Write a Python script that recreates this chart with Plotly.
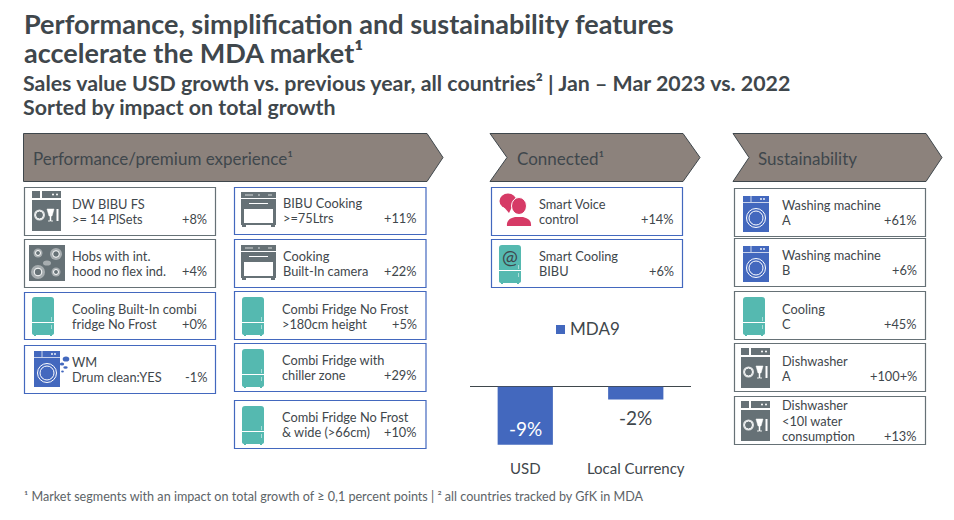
#!/usr/bin/env python3
import plotly.graph_objects as go

DARK = "#3f474c"
GRAY = "#667176"
BLUE = "#4368be"
TEAL = "#55b9b0"
RED = "#d63a66"
TAUPE = "#8c827c"
FONT = "Lato"

title_lines = ["Performance, simplification and sustainability features", "accelerate the MDA market¹"]
subtitle_lines = ["Sales value USD growth vs. previous year, all countries² | Jan – Mar 2023 vs. 2022",
                  "Sorted by impact on total growth"]
footnote = "¹ Market segments with an impact on total growth of ≥ 0,1 percent points | ² all countries tracked by GfK in MDA"

header_names = ["Performance/premium experience¹", "Connected¹", "Sustainability"]

perf_left_labels = [["DW BIBU FS", ">= 14 PlSets"], ["Hobs with int.", "hood no flex ind."],
                    ["Cooling Built-In combi", "fridge No Frost"], ["WM", "Drum clean:YES"]]
perf_left_values = ["+8%", "+4%", "+0%", "-1%"]
perf_left_icons = ["dish", "hob", "fridge", "wm"]
perf_left_border = [GRAY, GRAY, BLUE, BLUE]

perf_right_labels = [["BIBU Cooking", ">=75Ltrs"], ["Cooking", "Built-In camera"],
                     ["Combi Fridge No Frost", ">180cm height"], ["Combi Fridge with", "chiller zone"],
                     ["Combi Fridge No Frost", "& wide (>66cm)"]]
perf_right_values = ["+11%", "+22%", "+5%", "+29%", "+10%"]
perf_right_icons = ["oven", "oven", "fridge", "fridge", "fridge"]
perf_right_border = [BLUE, BLUE, BLUE, BLUE, BLUE]

connected_labels = [["Smart Voice", "control"], ["Smart Cooling", "BIBU"]]
connected_values = ["+14%", "+6%"]
connected_icons = ["voice", "smartfridge"]
connected_border = [BLUE, BLUE]

sustain_labels = [["Washing machine", "A"], ["Washing machine", "B"], ["Cooling", "C"],
                  ["Dishwasher", "A"], ["Dishwasher", "<10l water", "consumption"]]
sustain_values = ["+61%", "+6%", "+45%", "+100+%", "+13%"]
sustain_icons = ["washer", "washer", "fridge", "dish", "dish"]
sustain_border = [GRAY, GRAY, GRAY, GRAY, GRAY]

bar_name = "MDA9"
bar_categories = ["USD", "Local Currency"]
bar_values = [-9, -2]
bar_labels = ["-9%", "-2%"]

shapes = []
annotations = []


def rect(x0, y0, x1, y1, fill=None, line=None, width=1):
    shapes.append(dict(type="rect", xref="x", yref="y", x0=x0, y0=y0, x1=x1, y1=y1,
                       fillcolor=fill or "rgba(0,0,0,0)",
                       line=dict(color=line or "rgba(0,0,0,0)", width=width if line else 0)))


def circle(cx, cy, rx, ry=None, fill=None, line=None, width=1):
    ry = ry or rx
    shapes.append(dict(type="circle", xref="x", yref="y", x0=cx - rx, y0=cy - ry, x1=cx + rx, y1=cy + ry,
                       fillcolor=fill or "rgba(0,0,0,0)",
                       line=dict(color=line or "rgba(0,0,0,0)", width=width if line else 0)))


def path(d, fill=None, line=None, width=1):
    shapes.append(dict(type="path", xref="x", yref="y", path=d,
                       fillcolor=fill or "rgba(0,0,0,0)",
                       line=dict(color=line or "rgba(0,0,0,0)", width=width if line else 0)))


def text(x, y, s, size=12.8, color=DARK, anchor="left", bold=False):
    annotations.append(dict(xref="x", yref="y", x=x, y=y, text=s, showarrow=False, xanchor=anchor,
                            yanchor="middle", align=anchor, borderpad=0, borderwidth=0,
                            font=dict(family=FONT, size=size, color=color, weight=700 if bold else 400)))


def dish_icon(x, y):
    rect(x, y, x + 8, y + 7, GRAY)
    rect(x + 10, y, x + 29, y + 7, GRAY)
    circle(x + 21, y + 3.5, 1, fill="white")
    circle(x + 25, y + 3.5, 1, fill="white")
    rect(x, y + 9, x + 29, y + 40, GRAY)
    circle(x + 7.5, y + 24, 5.5, fill="#dfe2e3")
    circle(x + 7.5, y + 24, 4, fill=GRAY, line="white")
    path(f"M{x+15},{y+18} L{x+22},{y+18} L{x+20},{y+25} L{x+19},{y+25} L{x+19},{y+30} L{x+21},{y+30} "
         f"L{x+16},{y+30} L{x+18},{y+30} L{x+18},{y+25} L{x+17},{y+25} Z", fill="white", line="white", width=0.5)
    rect(x + 24.5, y + 18, x + 26.5, y + 30, "white")


def hob_icon(x, y):
    rect(x, y, x + 36, y + 36, GRAY)
    for cx, cy, r in [(9, 8, 4.5), (27, 9, 6), (9, 27, 7), (27, 27, 4.5)]:
        circle(x + cx, y + cy, r, fill="#a7adb0")
        circle(x + cx, y + cy, r * 0.55, fill=GRAY, line="white", width=1)
    circle(x + 18, y + 18, 4, 2.6, fill="#a7adb0")


def oven_icon(x, y):
    rect(x, y, x + 35, y + 6, GRAY)
    for dx in [5, 7, 9, 11, 18, 28, 30]:
        circle(x + dx, y + 3, 0.7, fill="white")
    rect(x, y + 7, x + 35, y + 33, GRAY)
    rect(x + 3, y + 17, x + 32, y + 31, "white")
    rect(x + 8, y + 11, x + 27, y + 12, "white")
    rect(x + 1, y + 33, x + 5, y + 35, GRAY)
    rect(x + 30, y + 33, x + 34, y + 35, GRAY)


def fridge_icon(x, y):
    path(f"M{x+3},{y} L{x+19},{y} Q{x+22},{y} {x+22},{y+3} L{x+22},{y+36} Q{x+22},{y+38} {x+19},{y+38} "
         f"L{x+3},{y+38} Q{x},{y+38} {x},{y+36} L{x},{y+3} Q{x},{y} {x+3},{y} Z", fill=TEAL)
    rect(x + 2, y + 38, x + 4, y + 39, TEAL)
    rect(x + 18, y + 38, x + 20, y + 39, TEAL)
    rect(x, y + 25, x + 22, y + 26, "white")
    rect(x + 19.5, y + 20, x + 20, y + 24, "white")
    rect(x + 19.5, y + 28, x + 20, y + 32, "white")


def washer_icon(x, y):
    rect(x, y, x + 26, y + 36, BLUE)
    rect(x, y + 6, x + 26, y + 7, "#c9d3ec")
    rect(x + 7.5, y, x + 8.5, y + 6, "#c9d3ec")
    circle(x + 18, y + 3, 0.9, fill="white")
    circle(x + 21, y + 3, 0.9, fill="white")
    circle(x + 13, y + 22, 9.5, line="white", width=1)
    circle(x + 13, y + 22, 7, line="white", width=1)


def wm_icon(x, y):
    washer_icon(x, y)
    circle(x + 32, y + 8, 3.3, 2.6, fill=BLUE)
    circle(x + 28, y + 13, 2.2, 1.6, fill=BLUE)
    circle(x + 31.5, y + 16.5, 2.2, 1.2, fill=BLUE)
    circle(x + 28.5, y + 20.5, 1.4, 1, fill=BLUE)


def voice_icon(x, y):
    circle(x + 8, y + 7, 8.5, 7.5, fill=RED)
    path(f"M{x+3},{y+12} L{x+9},{y+19} L{x+12},{y+13} Z", fill=RED)
    circle(x + 19, y + 12, 7.5, 8.5, fill=RED, line="white", width=1)
    path(f"M{x+7},{y+32} Q{x+6},{y+25} {x+15},{y+23} L{x+23},{y+23} Q{x+32},{y+25} {x+31},{y+32} Z",
         fill=RED)


def smartfridge_icon(x, y):
    fridge_icon(x, y)
    text(x + 11, y + 11, "@", size=19, color=DARK, anchor="center")


ICONS = {"dish": dish_icon, "hob": hob_icon, "oven": oven_icon, "fridge": fridge_icon, "washer": washer_icon,
         "wm": wm_icon, "voice": voice_icon, "smartfridge": smartfridge_icon}


def cards(x0, x1, tops, heights, text_x, icon_pos, first_line, labels, values, icons, borders):
    for i in range(len(labels)):
        rect(x0, tops[i], x1, tops[i] + heights[i], "white", borders[i], 1.2)
        ICONS[icons[i]](*icon_pos[i])
        y = tops[i] + first_line[i]
        for line in labels[i]:
            text(text_x[i], y, line)
            y += 15.2
        text(x1 - 8.7, y - 15.2, values[i], anchor="right")


def arrow(x0, x1, tip, notch):
    d = f"M{x0},133.5 L{x1},133.5 L{tip},157.5 L{x1},181.5 L{x0},181.5"
    d += f" L{notch},157.5 Z" if notch else " Z"
    path(d, TAUPE, DARK, 1)


# header
text(24, 23, title_lines[0], size=27.05, color=DARK, bold=True)
text(24, 52, title_lines[1], size=27.05, color=DARK, bold=True)
text(23, 83, subtitle_lines[0], size=21.35, color=DARK, bold=True)
text(23, 107, subtitle_lines[1], size=21.35, color=DARK, bold=True)

arrow(23.5, 427, 443, None)
arrow(490, 683, 700, 507)
arrow(733, 926, 942, 749)
text(33, 158, header_names[0], size=17)
text(517, 158, header_names[1], size=17)
text(758, 158, header_names[2], size=17)

cards(24.5, 215.5, [187.5, 239.5, 292.5, 345.5], [48, 48, 47, 48], [72, 72, 72, 72],
      [(32, 191), (29, 245), (32, 297), (34, 351)], [16.7, 16.7, 16, 16.7],
      perf_left_labels, perf_left_values, perf_left_icons, perf_left_border)
cards(234.5, 426, [187.5, 239.5, 291.5, 343.5, 400.5], [47, 48, 48, 48, 48], [282.5, 282.5, 281.5, 281.5, 281.5],
      [(241, 192), (241, 245), (242, 297), (242, 349), (242, 406)], [15.7, 16.7, 17, 16.5, 16.5],
      perf_right_labels, perf_right_values, perf_right_icons, perf_right_border)
cards(491.5, 682.5, [187.5, 239.5], [48, 48], [538.7, 538.7],
      [(500, 194), (499, 245)], [16.7, 16.7],
      connected_labels, connected_values, connected_icons, connected_border)
cards(734.5, 925.5, [188.5, 238.5, 291.5, 343.5, 396.5], [48, 48, 48, 48, 48], [782, 782, 782, 782, 782],
      [(743, 196), (743, 246), (743, 297), (741, 348), (741, 401)], [16.7, 16.7, 17.7, 17, 8.8],
      sustain_labels, sustain_values, sustain_icons, sustain_border)

rect(556, 325, 565, 334, BLUE)
text(570, 328.5, bar_name, size=17)

text(24, 496, footnote, size=12.6, color="#5d6468")

# bar value labels sit a fixed pixel distance from the bar end
label_colors = ["white", DARK]
label_shift = [16.5, -18.5]
for i in range(len(bar_values)):
    annotations.append(dict(xref="x2", yref="y2", x=bar_categories[i], y=bar_values[i], text=bar_labels[i],
                            showarrow=False, yanchor="middle", yshift=label_shift[i], borderpad=0, borderwidth=0,
                            font=dict(family=FONT, size=19, color=label_colors[i])))

fig = go.Figure(go.Bar(
    x=bar_categories,
    y=bar_values,
    name=bar_name,
    xaxis="x2",
    yaxis="y2",
    width=0.5,
    marker=dict(color=BLUE, line=dict(width=0)),
))

fig.update_layout(
    width=954,
    height=520,
    margin=dict(l=0, r=0, t=0, b=0),
    paper_bgcolor="white",
    plot_bgcolor="rgba(0,0,0,0)",
    showlegend=False,
    font=dict(family=FONT, color=DARK),
    shapes=shapes,
    annotations=annotations,
    xaxis=dict(range=[0, 954], visible=False, domain=[0, 1], fixedrange=True),
    yaxis=dict(range=[520, 0], visible=False, domain=[0, 1], fixedrange=True),
    xaxis2=dict(domain=[470 / 954, 691 / 954], anchor="y2", showgrid=False, zeroline=False, showline=False,
                ticks="outside", ticklen=0, tickcolor="rgba(0,0,0,0)", tickfont=dict(family=FONT, size=15, color=DARK)),
    yaxis2=dict(domain=[1 - 455 / 520, 1 - 386.5 / 520], anchor="x2", range=[-10.6, 0], showgrid=False,
                showticklabels=False, zeroline=True, zerolinecolor=DARK, zerolinewidth=1, ticks=""),
)

fig.write_html("out.html", config=dict(displayModeBar=False), post_script="document.body.style.margin='0';")
